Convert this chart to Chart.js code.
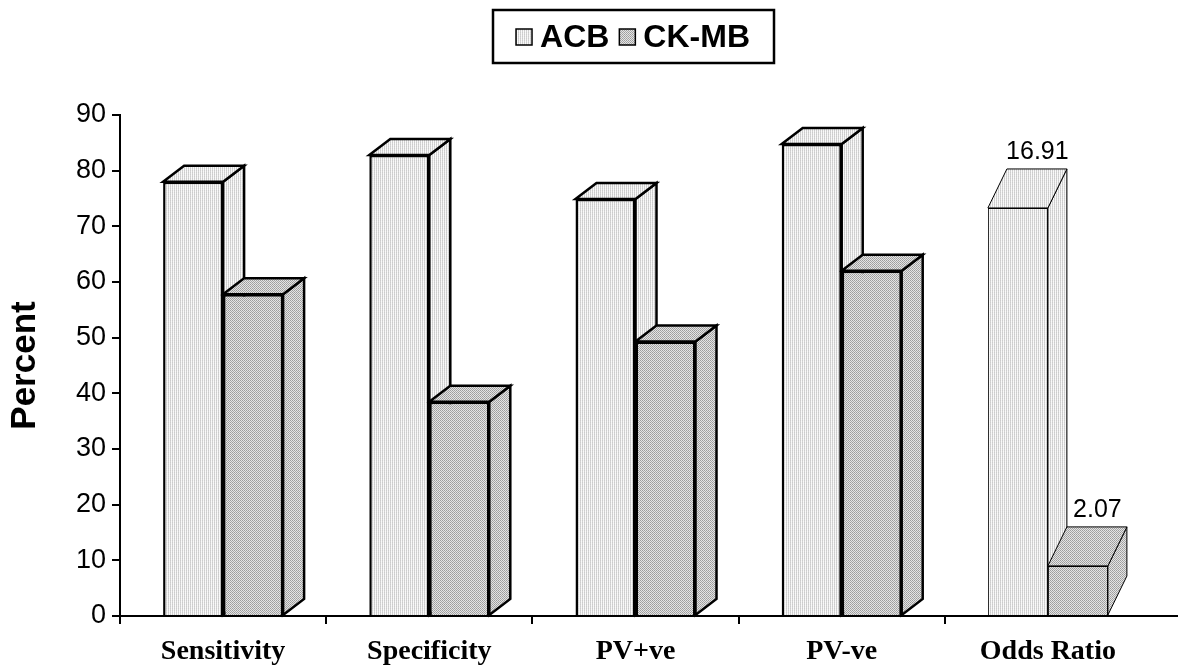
<!DOCTYPE html>
<html><head><meta charset="utf-8">
<script src="https://cdn.jsdelivr.net/npm/chart.js@4.4.1/dist/chart.umd.min.js"></script>
<style>html,body{margin:0;padding:0;background:#fff;}#wrap{width:1178px;height:670px;}</style>
</head><body>
<div id="wrap"><canvas id="c" width="1178" height="670"></canvas></div>
<script>
// ---- data ----
const categories = ['Sensitivity', 'Specificity', 'PV+ve', 'PV-ve', 'Odds Ratio'];
const seriesNames = ['ACB', 'CK-MB'];
const acbValues = [78.0, 82.8, 74.9, 84.8, 73.3];
const ckmbValues = [57.8, 38.5, 49.3, 62.0, 9.0];
const acbValueLabels = ['', '', '', '', '16.91'];
const ckmbValueLabels = ['', '', '', '', '2.07'];
const yTickMin = 0, yTickMax = 90, yTickStep = 10;
const yTitle = 'Percent';

// ---- styles ----
function makePattern(cells) {
  const c = document.createElement('canvas');
  c.width = cells[0].length; c.height = cells.length;
  const g = c.getContext('2d');
  cells.forEach((row, yy) => row.forEach((col, xx) => { g.fillStyle = col; g.fillRect(xx, yy, 1, 1); }));
  return g.createPattern(c, 'repeat');
}
const patACB = makePattern([['#cccccc', '#f6f6f6'], ['#d4d4d4', '#fafafa']]);
const patCK = makePattern([['#9c9c9c', '#e4e4e4'], ['#e4e4e4', '#a8a8a8']]);
const patterns = [patACB, patCK];
const SANS = '"Liberation Sans", Arial, Helvetica, sans-serif';
const SERIF = '"Liberation Serif", "Times New Roman", serif';
function depthFor(i) { return i === 4 ? {dx: 19, dy: 39, lw: 1} : {dx: 21, dy: 16, lw: 2.5}; }
const isRealTick = (c) => c.type === 'tick' && c.tick !== undefined;

const depthPlugin = {
  id: 'depth3d',
  beforeDatasetsDraw(chart) {
    const ctx = chart.ctx;
    const n = chart.data.labels.length;
    for (let i = 0; i < n; i++) {
      chart.data.datasets.forEach((ds, di) => {
        const el = chart.getDatasetMeta(di).data[i];
        const {x, y, base, width} = el.getProps(['x', 'y', 'base', 'width'], true);
        const d = depthFor(i);
        const L = x - width / 2, R = x + width / 2;
        ctx.save();
        ctx.fillStyle = patterns[di];
        ctx.strokeStyle = '#000'; ctx.lineWidth = d.lw; ctx.lineJoin = 'miter';
        ctx.beginPath();
        ctx.moveTo(R, y); ctx.lineTo(R + d.dx, y - d.dy); ctx.lineTo(R + d.dx, base - d.dy); ctx.lineTo(R, base);
        ctx.closePath(); ctx.fill(); ctx.stroke();
        ctx.beginPath();
        ctx.moveTo(L, y); ctx.lineTo(L + d.dx, y - d.dy); ctx.lineTo(R + d.dx, y - d.dy); ctx.lineTo(R, y);
        ctx.closePath(); ctx.fill(); ctx.stroke();
        ctx.restore();
      });
    }
  },
  afterDatasetsDraw(chart) {
    const ctx = chart.ctx;
    const lbls = [acbValueLabels, ckmbValueLabels];
    ctx.save();
    ctx.fillStyle = '#000';
    ctx.font = '25px ' + SANS;
    ctx.textAlign = 'center'; ctx.textBaseline = 'alphabetic';
    chart.data.datasets.forEach((ds, di) => {
      chart.getDatasetMeta(di).data.forEach((el, i) => {
        const t = lbls[di][i];
        if (!t) return;
        const d = depthFor(i);
        const {x, y} = el.getProps(['x', 'y'], true);
        ctx.fillText(t, x + d.dx / 2 + 10, y - d.dy - 10);
      });
    });
    ctx.restore();
  },
  afterDraw(chart) {
    const ctx = chart.ctx;
    const a = chart.chartArea;
    ctx.save();
    ctx.strokeStyle = '#000'; ctx.lineWidth = 2;
    ctx.beginPath(); ctx.moveTo(a.right - 1, a.bottom); ctx.lineTo(chart.width, a.bottom); ctx.stroke();
    // legend
    ctx.font = 'bold 32px ' + SANS;
    ctx.textBaseline = 'middle'; ctx.textAlign = 'left';
    const box = 16, gapIn = 8, gapOut = 10;
    const widths = seriesNames.map(s => ctx.measureText(s).width);
    let total = 0;
    widths.forEach((w, k) => { total += box + gapIn + w + (k < widths.length - 1 ? gapOut : 0); });
    const cx = 633, cy = 37;
    ctx.lineWidth = 2.5;
    ctx.strokeRect(493, 10, 281, 53);
    let px = cx - total / 2;
    seriesNames.forEach((s, k) => {
      ctx.fillStyle = patterns[k];
      ctx.fillRect(px, cy - box / 2, box, box);
      ctx.lineWidth = 1.5; ctx.strokeStyle = '#000';
      ctx.strokeRect(px, cy - box / 2, box, box);
      ctx.fillStyle = '#000';
      ctx.fillText(s, px + box + gapIn, cy + 1);
      px += box + gapIn + widths[k] + gapOut;
    });
    ctx.restore();
  }
};

new Chart(document.getElementById('c'), {
  type: 'bar',
  data: {
    labels: categories,
    datasets: [
      {label: seriesNames[0], data: acbValues, backgroundColor: patACB},
      {label: seriesNames[1], data: ckmbValues, backgroundColor: patCK}
    ]
  },
  options: {
    responsive: false,
    animation: false,
    devicePixelRatio: 1,
    layout: {padding: {top: 115, right: 27, bottom: 0, left: 0}},
    datasets: {bar: {
      categoryPercentage: 0.582, barPercentage: 1.0,
      borderColor: '#000',
      borderWidth: (c) => c.dataIndex === 4 ? 1 : 2.5,
      borderSkipped: 'start'
    }},
    plugins: {legend: {display: false}, tooltip: {enabled: false}},
    scales: {
      x: {
        afterFit(s) { s.height = 54; },
        border: {color: '#000', width: 2},
        grid: {drawOnChartArea: false, offset: true, tickLength: 8,
               lineWidth: (c) => (isRealTick(c) ? 2 : 0),
               tickWidth: (c) => (isRealTick(c) ? 2 : 0),
               color: (c) => (isRealTick(c) ? '#000' : 'rgba(0,0,0,0)'),
               tickColor: (c) => (isRealTick(c) ? '#000' : 'rgba(0,0,0,0)')},
        ticks: {color: '#000', padding: 11, maxRotation: 0,
                font: {family: SERIF, weight: 'bold', size: 28}}
      },
      y: {
        min: yTickMin, max: yTickMax,
        afterFit(s) { s.width = 120; },
        border: {color: '#000', width: 2},
        grid: {drawOnChartArea: false, tickLength: 8, lineWidth: 2, color: '#000'},
        ticks: {stepSize: yTickStep, color: '#000', padding: 6, font: {family: SANS, size: 27}},
        title: {display: true, text: yTitle, color: '#000', padding: {top: 4, bottom: 0},
                font: {family: SANS, weight: 'bold', size: 35}}
      }
    }
  },
  plugins: [depthPlugin]
});
</script>
</body></html>
